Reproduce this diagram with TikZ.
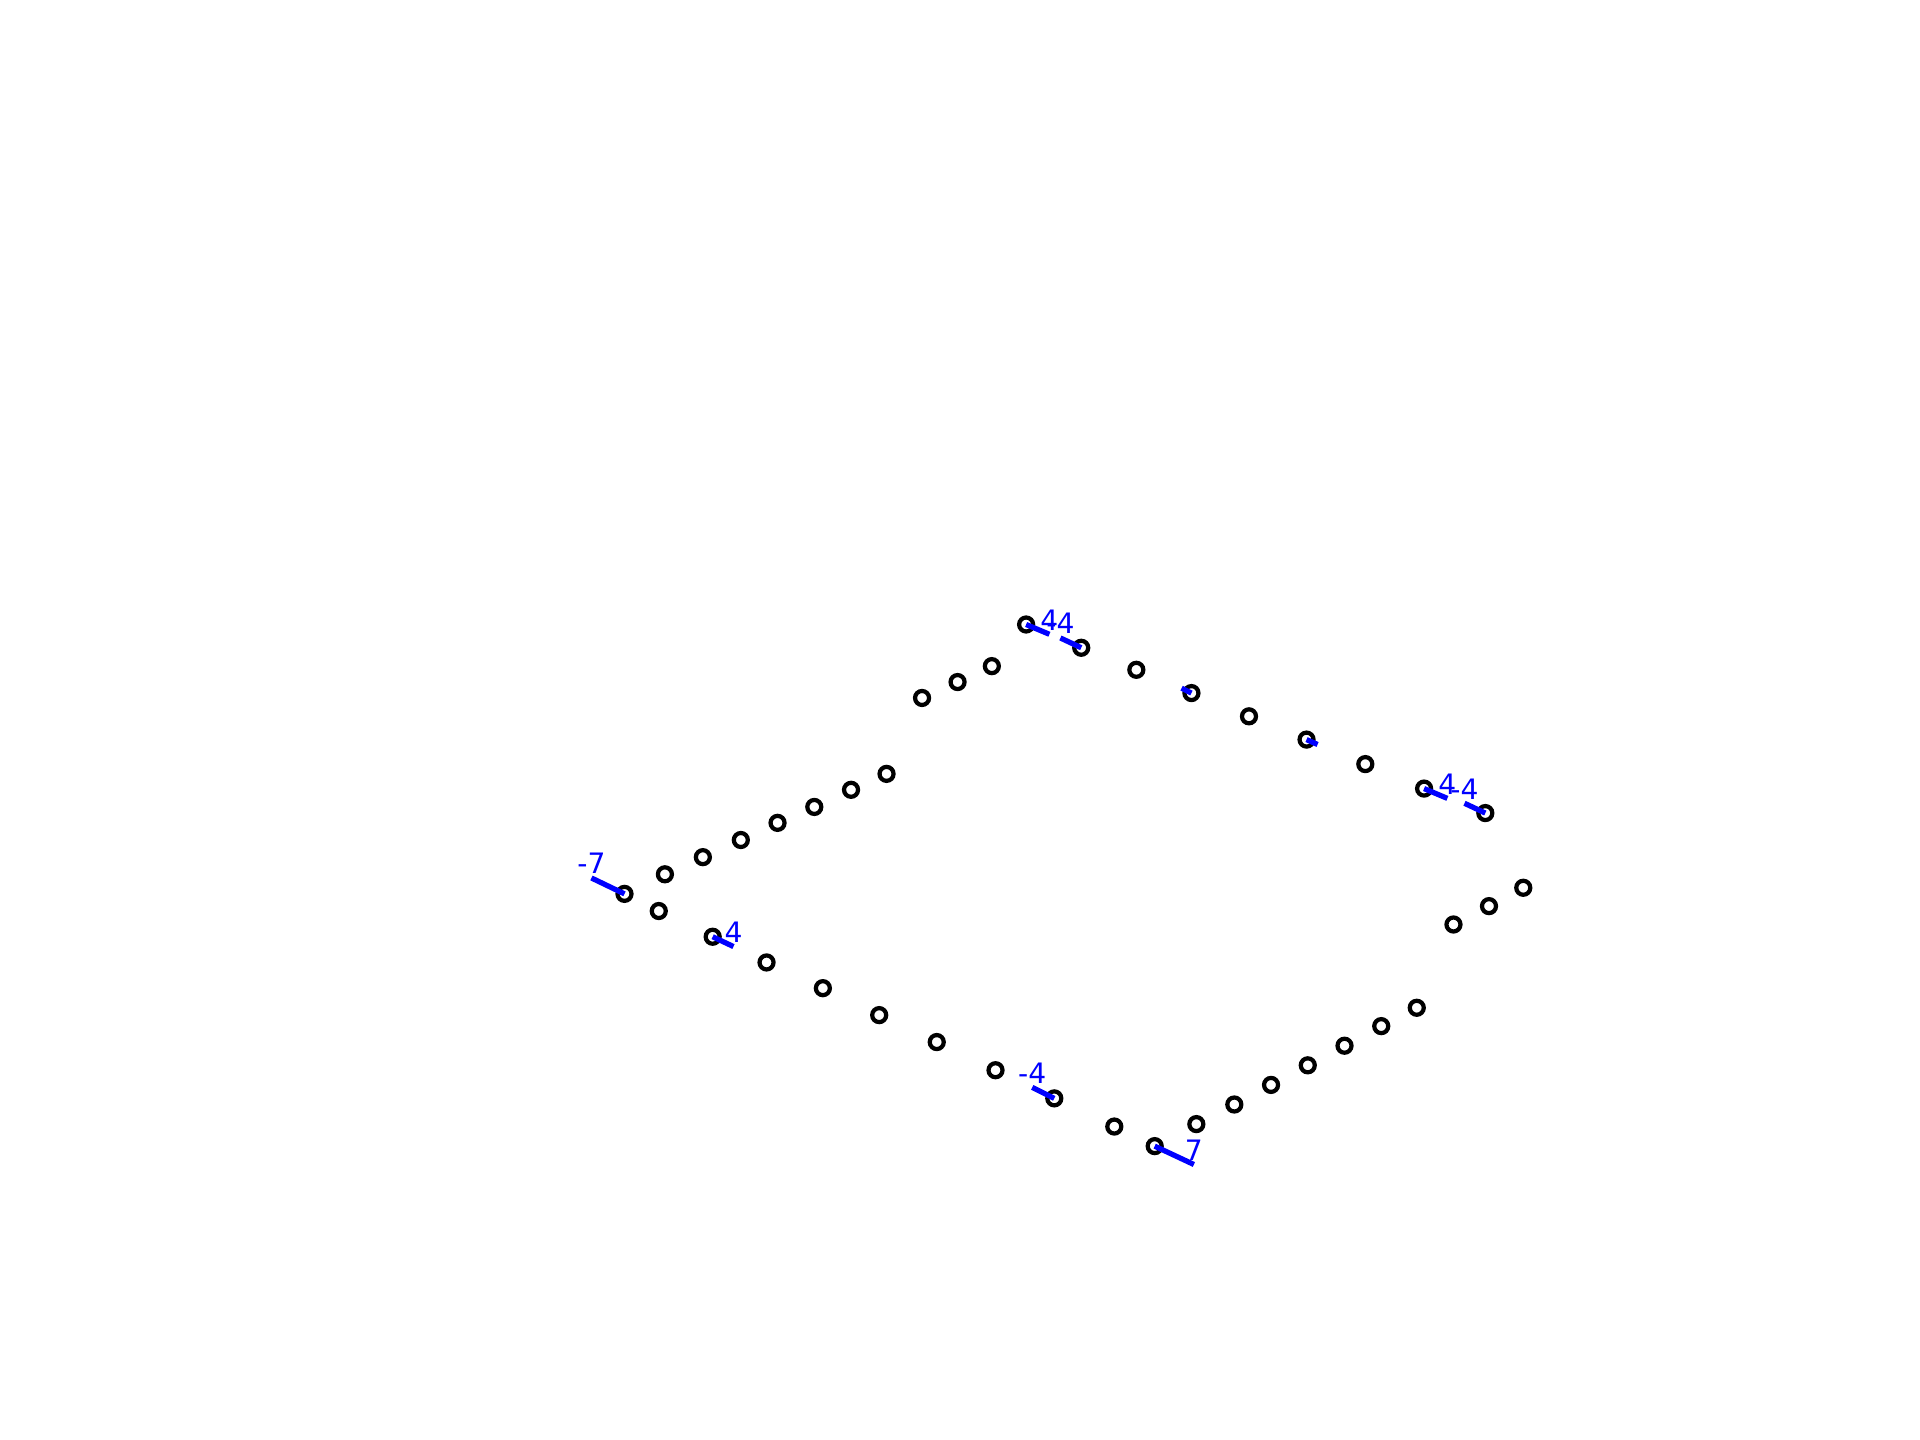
\documentclass[tikz,border=0pt]{standalone}
\usepackage{fontspec}
\setmainfont{DejaVu Sans}
\tikzset{
  pt/.style={circle, draw=black, line width=1.2pt, minimum size=0.14cm, inner sep=0pt},
  wline/.style={draw=blue, line width=1.5pt},
  lbl/.style={text=blue, anchor=south, inner sep=0pt, yshift=0.035cm, font=\fontsize{8}{9.5}\selectfont}
}
\begin{document}
\begin{tikzpicture}[x=0.012245cm, y=-0.012245cm]
\useasboundingbox (0,0) rectangle (1568,1176);
% points
\node[pt] (p1) at (510,730) {};
\node[pt] (p2) at (543,714) {};
\node[pt] (p3) at (574,700) {};
\node[pt] (p4) at (605,686) {};
\node[pt] (p5) at (635,672) {};
\node[pt] (p6) at (665,659) {};
\node[pt] (p7) at (695,645) {};
\node[pt] (p8) at (724,632) {};
\node[pt] (p9) at (753,570) {};
\node[pt] (p10) at (782,557) {};
\node[pt] (p11) at (810,544) {};
\node[pt] (p12) at (838,510) {};
\node[pt] (p13) at (883,529) {};
\node[pt] (p14) at (928,547) {};
\node[pt] (p15) at (973,566) {};
\node[pt] (p16) at (1020,585) {};
\node[pt] (p17) at (1067,604) {};
\node[pt] (p18) at (1115,624) {};
\node[pt] (p19) at (1163,644) {};
\node[pt] (p20) at (1213,664) {};
\node[pt] (p21) at (1244,725) {};
\node[pt] (p22) at (1216,740) {};
\node[pt] (p23) at (1187,755) {};
\node[pt] (p24) at (1157,823) {};
\node[pt] (p25) at (1128,838) {};
\node[pt] (p26) at (1098,854) {};
\node[pt] (p27) at (1068,870) {};
\node[pt] (p28) at (1038,886) {};
\node[pt] (p29) at (1008,902) {};
\node[pt] (p30) at (977,918) {};
\node[pt] (p31) at (943,936) {};
\node[pt] (p32) at (910,920) {};
\node[pt] (p33) at (861,897) {};
\node[pt] (p34) at (813,874) {};
\node[pt] (p35) at (765,851) {};
\node[pt] (p36) at (718,829) {};
\node[pt] (p37) at (672,807) {};
\node[pt] (p38) at (626,786) {};
\node[pt] (p39) at (582,765) {};
\node[pt] (p40) at (538,744) {};
% weight ends
\coordinate (w1) at (483,717);
\coordinate (w12) at (857,518);
\coordinate (w13) at (866,521);
\coordinate (w15) at (965,562);
\coordinate (w17) at (1076,608);
\coordinate (w19) at (1182,652);
\coordinate (w20) at (1196,656);
\coordinate (w31) at (975,951);
\coordinate (w33) at (843,888);
\coordinate (w39) at (599,773);
% weight lines
\draw[wline] (p1.center) -- (w1);
\draw[wline] (p12.center) -- (w12);
\draw[wline] (p13.center) -- (w13);
\draw[wline] (p15.center) -- (w15);
\draw[wline] (p17.center) -- (w17);
\draw[wline] (p19.center) -- (w19);
\draw[wline] (p20.center) -- (w20);
\draw[wline] (p31.center) -- (w31);
\draw[wline] (p33.center) -- (w33);
\draw[wline] (p39.center) -- (w39);
% labels
\node[lbl] (l1) at (w1) {-7};
\node[lbl] (l12) at (w12) {4};
\node[lbl] (l13) at (w13) {-4};
\node[lbl] (l19) at (w19) {4};
\node[lbl] (l20) at (w20) {-4};
\node[lbl] (l31) at (w31) {7};
\node[lbl] (l33) at (w33) {-4};
\node[lbl] (l39) at (w39) {4};
\end{tikzpicture}
\end{document}
